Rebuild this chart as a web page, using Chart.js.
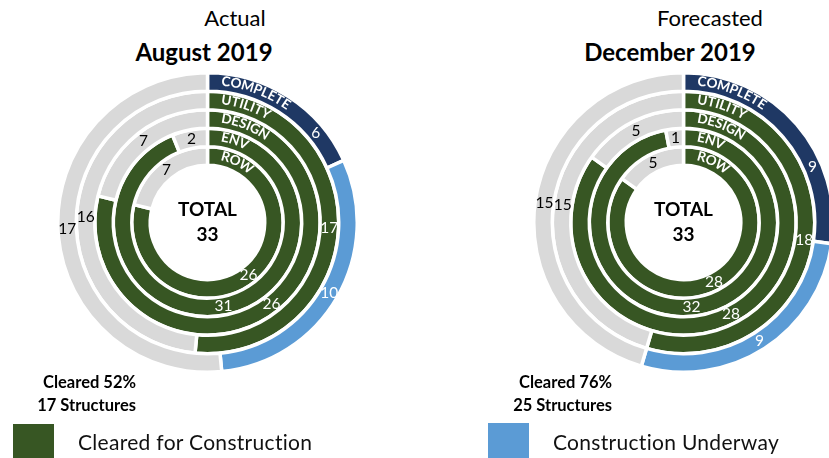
<!DOCTYPE html>
<html>
<head>
<meta charset="utf-8">
<script src="https://cdn.jsdelivr.net/npm/chart.js@4.4.1/dist/chart.umd.min.js"></script>
<style>
  html, body { margin: 0; padding: 0; background: #fff; width: 829px; height: 458px; overflow: hidden; }
  body { position: relative; font-family: Lato, "Open Sans", sans-serif; color: #000; }
  .abs { position: absolute; line-height: 1; white-space: nowrap; }
  canvas { position: absolute; }
  .title { font-size: 22px; transform: translateX(-50%); }
  .month { font-size: 24px; font-weight: bold; transform: translateX(-50%); }
  .cleared { font-size: 16.5px; font-weight: bold; text-align: right; transform: translateX(-100%); }
  .legbox { position: absolute; width: 41px; height: 35px; }
  .legtext { font-size: 21px; letter-spacing: 0.3px; color: #111; }
</style>
</head>
<body>
<div class="abs title" style="left:235px; top:7px;">Actual</div>
<div class="abs month" style="left:204px; top:40px;">August 2019</div>
<div class="abs title" style="left:710px; top:7px;">Forecasted</div>
<div class="abs month" style="left:670px; top:40px;">December 2019</div>

<canvas id="actualChart" width="303" height="303" style="left:56px; top:71px;"></canvas>
<canvas id="forecastChart" width="303" height="303" style="left:532px; top:71px;"></canvas>

<div class="abs cleared" style="left:136px; top:374px;" id="actualCleared"></div>
<div class="abs cleared" style="left:136px; top:397px;" id="actualStructures"></div>
<div class="abs cleared" style="left:612px; top:374px;" id="forecastCleared"></div>
<div class="abs cleared" style="left:612px; top:397px;" id="forecastStructures"></div>

<div class="legbox" style="left:13px; top:424px; background:#375623;"></div>
<div class="abs legtext" style="left:78px; top:431px;">Cleared for Construction</div>
<div class="legbox" style="left:488px; top:423px; background:#5B9BD5;"></div>
<div class="abs legtext" style="left:553px; top:431px;">Construction Underway</div>

<script>
// rings, outermost first
const ringNames = ['COMPLETE', 'UTILITY', 'DESIGN', 'ENV', 'ROW'];
const totalStructures = 33;

// Actual - August 2019
const actualComplete = [6, 10, 17];        // complete, underway, remaining
const actualCleared = [17, 26, 31, 26];    // UTILITY, DESIGN, ENV, ROW
const actualRemaining = [16, 7, 2, 7];
const actualStructuresCleared = 17;

// Forecasted - December 2019
const forecastComplete = [9, 9, 15];
const forecastCleared = [18, 28, 32, 28];
const forecastRemaining = [15, 5, 1, 5];
const forecastStructuresCleared = 25;

const GREEN = '#375623';
const NAVY = '#1F3864';
const BLUE = '#5B9BD5';
const GRAY = '#D9D9D9';

function pct(n) {
    return Math.round(n / totalStructures * 100);
}

document.getElementById('actualCleared').textContent = 'Cleared ' + pct(actualStructuresCleared) + '%';
document.getElementById('actualStructures').textContent = actualStructuresCleared + ' Structures';
document.getElementById('forecastCleared').textContent = 'Cleared ' + pct(forecastStructuresCleared) + '%';
document.getElementById('forecastStructures').textContent = forecastStructuresCleared + ' Structures';

function buildDatasets(complete, cleared, remaining) {
    const sets = [{
        label: ringNames[0],
        data: complete,
        backgroundColor: [NAVY, BLUE, GRAY]
    }];
    cleared.forEach((v, i) => {
        sets.push({
            label: ringNames[i + 1],
            data: [v, remaining[i]],
            backgroundColor: [GREEN, GRAY]
        });
    });
    sets.forEach(s => {
        s.borderColor = '#fff';
        s.borderWidth = 3.5;
    });
    return sets;
}

function drawArcText(ctx, text, cx, cy, r, startArc) {
    let a = -Math.PI / 2 + startArc / r;
    for (const ch of text) {
        const w = ctx.measureText(ch).width;
        const mid = a + (w / 2) / r;
        ctx.save();
        ctx.translate(cx + r * Math.cos(mid), cy + r * Math.sin(mid));
        ctx.rotate(mid + Math.PI / 2);
        ctx.fillText(ch, 0, 0);
        ctx.restore();
        a += (w + 0.2) / r;
    }
    return a;
}

const ringLabels = {
    id: 'ringLabels',
    afterDatasetsDraw(chart) {
        const ctx = chart.ctx;
        ctx.save();
        ctx.textAlign = 'center';
        ctx.textBaseline = 'middle';
        let textEnd = 0;
        chart.data.datasets.forEach((ds, di) => {
            const meta = chart.getDatasetMeta(di);
            const first = meta.data[0];
            const r = (first.innerRadius + first.outerRadius) / 2;
            ctx.font = 'bold 13.5px Lato';
            ctx.fillStyle = '#fff';
            const end = drawArcText(ctx, ds.label, first.x, first.y, r + 1.5, 14);
            if (di === 0) textEnd = end;

            ctx.font = '15.5px Lato';
            meta.data.forEach((arc, i) => {
                let ang = (arc.startAngle + arc.endAngle) / 2;
                if (di === 0 && i === 0) ang = (textEnd + arc.endAngle) / 2;
                ctx.fillStyle = ds.backgroundColor[i] === GRAY ? '#000' : '#fff';
                ctx.fillText(String(ds.data[i]), arc.x + r * Math.cos(ang), arc.y + r * Math.sin(ang));
            });
        });
        const c = chart.getDatasetMeta(0).data[0];
        ctx.fillStyle = '#000';
        ctx.font = 'bold 19px Lato';
        ctx.fillText('TOTAL', c.x, c.y - 13);
        ctx.fillText(String(totalStructures), c.x, c.y + 12);
        ctx.restore();
    }
};

function makeChart(id, complete, cleared, remaining) {
    new Chart(document.getElementById(id), {
        type: 'doughnut',
        data: {
            labels: ['a', 'b', 'c'],
            datasets: buildDatasets(complete, cleared, remaining)
        },
        options: {
            responsive: false,
            animation: false,
            cutout: '38.2%',
            plugins: {
                legend: { display: false },
                tooltip: { enabled: false }
            }
        },
        plugins: [ringLabels]
    });
}

makeChart('actualChart', actualComplete, actualCleared, actualRemaining);
makeChart('forecastChart', forecastComplete, forecastCleared, forecastRemaining);
</script>
</body>
</html>
